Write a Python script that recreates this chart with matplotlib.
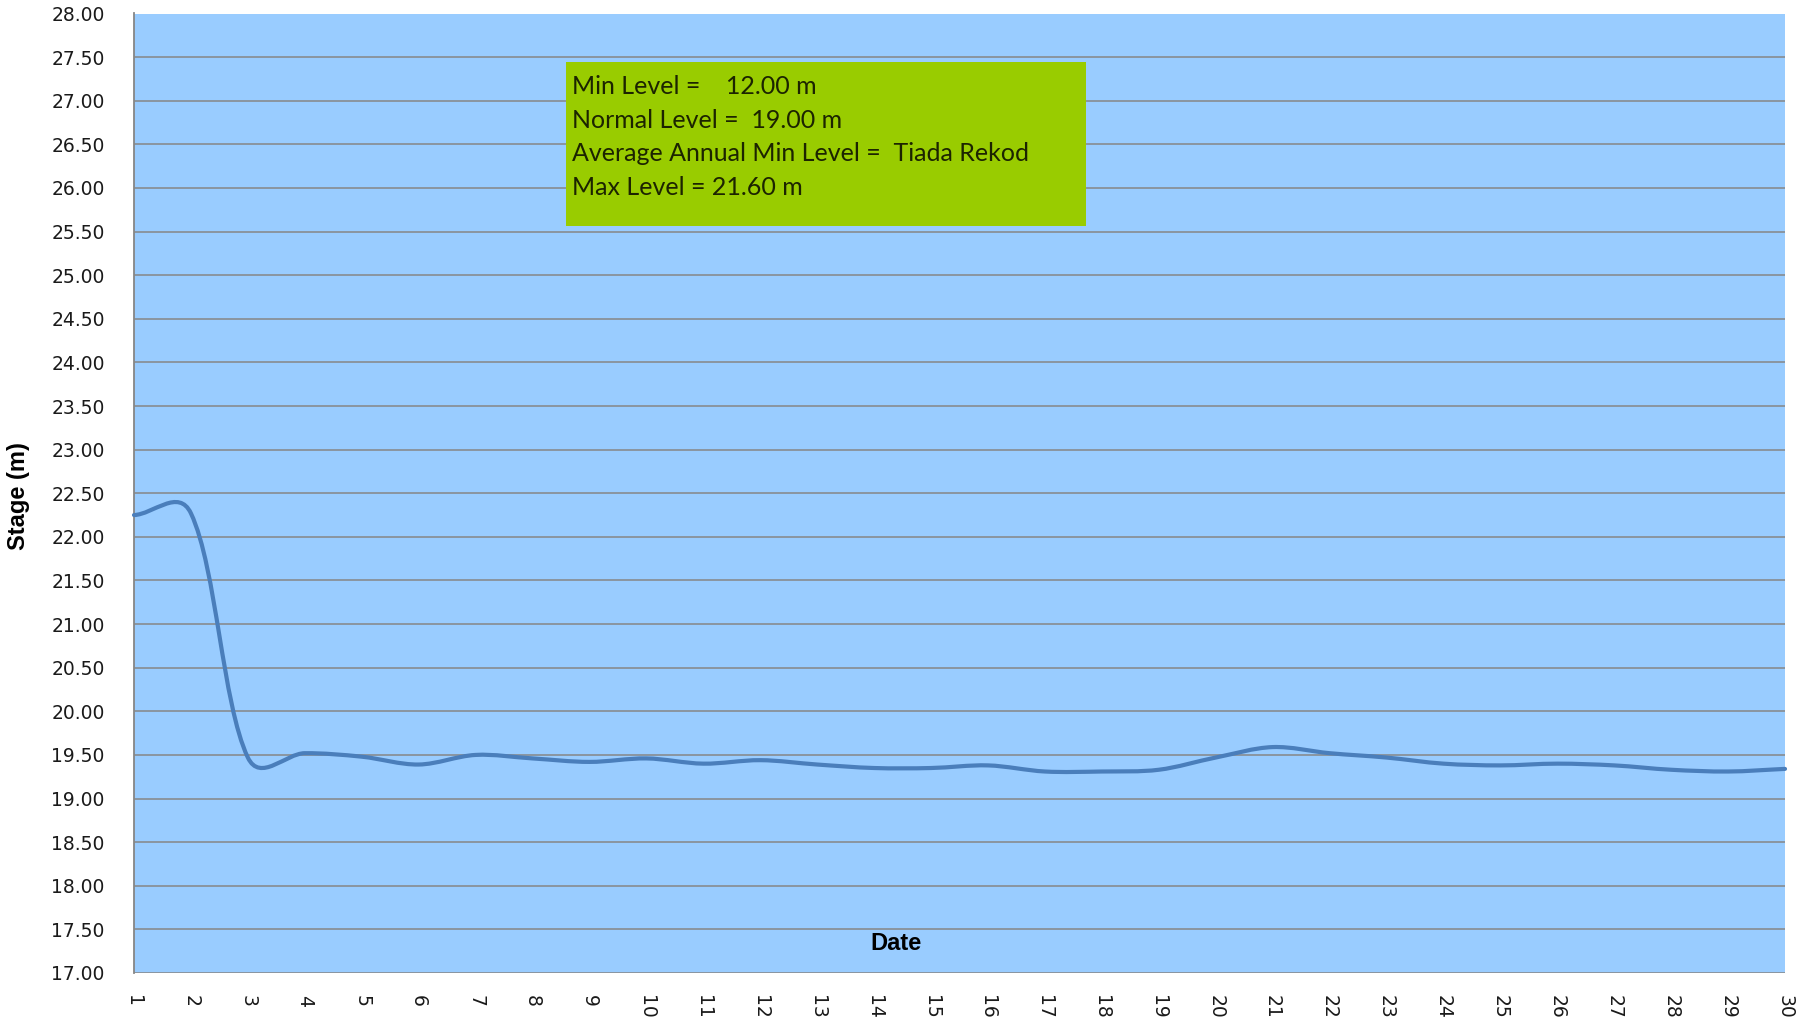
import numpy as np
import matplotlib
matplotlib.use("Agg")
import matplotlib.pyplot as plt
from matplotlib.path import Path
from matplotlib.patches import PathPatch

# Daily stage readings (m)
days = list(range(1, 31))
stage = [22.25, 22.27, 19.47, 19.52, 19.48, 19.39, 19.50, 19.46, 19.42, 19.46,
         19.40, 19.44, 19.39, 19.35, 19.35, 19.38, 19.31, 19.31, 19.33, 19.47,
         19.59, 19.52, 19.47, 19.40, 19.38, 19.40, 19.38, 19.33, 19.31, 19.34]

y_ticks = np.arange(17.0, 28.01, 0.5)
info_lines = ["Min Level =    12.00 m",
              "Normal Level =  19.00 m",
              "Average Annual Min Level =  Tiada Rekod",
              "Max Level = 21.60 m"]

W, H, DPI = 1797, 1031, 100
fig = plt.figure(figsize=(W / DPI, H / DPI), dpi=DPI)
ax = fig.add_axes([134 / W, 1 - 973 / H, (1785 - 134) / W, (973 - 13.5) / H])
ax.set_facecolor("#99CCFF")

ax.set_xlim(1, 30)
ax.set_ylim(17, 28)
ax.set_yticks(y_ticks)
ax.set_yticklabels([f"{v:.2f}" for v in y_ticks])
ax.set_xticks(days)
ax.set_xticklabels([str(d) for d in days], rotation=-90)
ax.tick_params(axis="both", length=0, labelsize=13.5, labelcolor="#1a1a1a")
ax.tick_params(axis="y", pad=21)
ax.tick_params(axis="x", pad=16)

ax.grid(axis="y", color="#868686", linewidth=1.1)
ax.set_axisbelow(True)
for side in ("right", "top", "bottom"):
    ax.spines[side].set_visible(False)
ax.spines["left"].set_color("#868686")
ax.spines["left"].set_linewidth(1.3)

# smoothed line through the daily points: cubic Bezier segments whose
# control arms are weighted by neighbouring chord lengths in screen space
fig.canvas.draw()
pts = np.column_stack([days, stage]).astype(float)
px = ax.transData.transform(pts)
n = len(pts)


def chord(i, j):
    return np.sqrt(np.hypot(*(px[j] - px[i])))


verts = [pts[0]]
codes = [Path.MOVETO]
for i in range(n - 1):
    i0 = max(i - 1, 0)
    i3 = min(i + 2, n - 1)
    d01, d12, d23 = chord(i0, i), chord(i, i + 1), chord(i + 1, i3)
    w1 = d12 / (d01 + d12) if d01 > 0 else 1.0
    w2 = d12 / (d12 + d23) if d23 > 0 else 1.0
    c1 = pts[i] + (pts[i + 1] - pts[i0]) * w1 / 3.0
    c2 = pts[i + 1] - (pts[i3] - pts[i]) * w2 / 3.0
    verts += [c1, c2, pts[i + 1]]
    codes += [Path.CURVE4] * 3
ax.add_patch(PathPatch(Path(verts, codes), facecolor="none",
                       edgecolor="#4A7EBB", linewidth=3.0, capstyle="round",
                       joinstyle="round", clip_on=False, zorder=3))

# info box
box_l, box_r, box_t, box_b = 566, 1086, 62.5, 225.5
fig.patches.append(plt.Rectangle((box_l / W, 1 - box_b / H), (box_r - box_l) / W,
                                 (box_b - box_t) / H, transform=fig.transFigure,
                                 facecolor="#99CC00", edgecolor="none", zorder=5))
baselines = [93.5, 127.5, 161.0, 195.0]
for txt, yb in zip(info_lines, baselines):
    fig.text(572 / W, 1 - yb / H, txt, fontsize=18.0, family=["Lato", "DejaVu Sans"],
             color="#1c2400", ha="left", va="baseline", zorder=6)

# axis titles
fig.text(896.5 / W, 1 - 944 / H, "Date", fontsize=17, fontweight="bold",
         family=["Liberation Sans", "DejaVu Sans"], ha="center", va="center",
         color="black", zorder=6)
fig.text(19 / W, 1 - 496 / H, "Stage (m)", fontsize=17, fontweight="bold",
         family=["Liberation Sans", "DejaVu Sans"], ha="center", va="center",
         rotation=90, color="black")

fig.savefig("out.png", dpi=DPI, facecolor="white")
